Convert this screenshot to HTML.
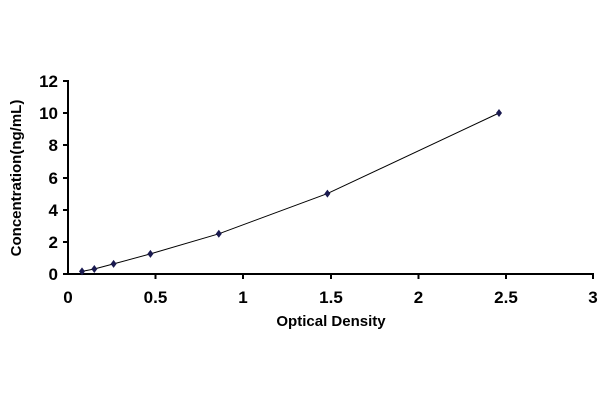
<!DOCTYPE html>
<html><head><style>body{margin:0;background:#fff}</style></head><body>
<svg width="600" height="400" xmlns="http://www.w3.org/2000/svg" font-family="Liberation Sans, Arial, sans-serif" font-weight="bold">
<rect width="600" height="400" fill="#fff"/>
<g stroke="#000" stroke-width="2" fill="none">
<line x1="68" y1="80" x2="68" y2="275"/>
<line x1="67" y1="274" x2="594" y2="274"/>
<line x1="63" y1="81" x2="68" y2="81"/><line x1="63" y1="113" x2="68" y2="113"/><line x1="63" y1="145" x2="68" y2="145"/><line x1="63" y1="178" x2="68" y2="178"/><line x1="63" y1="210" x2="68" y2="210"/><line x1="63" y1="242" x2="68" y2="242"/><line x1="63" y1="274" x2="68" y2="274"/>
<line x1="155.5" y1="274" x2="155.5" y2="279"/><line x1="243" y1="274" x2="243" y2="279"/><line x1="331" y1="274" x2="331" y2="279"/><line x1="418.5" y1="274" x2="418.5" y2="279"/><line x1="506" y1="274" x2="506" y2="279"/><line x1="593" y1="274" x2="593" y2="279"/>
</g>
<g font-size="17" text-anchor="end">
<text x="58" y="87">12</text><text x="58" y="119">10</text><text x="58" y="151">8</text><text x="58" y="184">6</text><text x="58" y="216">4</text><text x="58" y="248">2</text><text x="58" y="280">0</text>
</g>
<g font-size="17" text-anchor="middle">
<text x="68" y="303">0</text><text x="155.5" y="303">0.5</text><text x="243" y="303">1</text><text x="331" y="303">1.5</text><text x="418.5" y="303">2</text><text x="506" y="303">2.5</text><text x="593" y="303">3</text>
</g>
<text x="331" y="326" font-size="15" text-anchor="middle">Optical Density</text>
<text transform="translate(21,178) rotate(-90)" font-size="15" text-anchor="middle">Concentration(ng/mL)</text>
<polyline fill="none" stroke="#000" stroke-width="1" points="82,271.4 94.3,269 113.6,263.9 150.4,253.9 218.8,233.8 327.4,193.6 499,113"/>
<g fill="#1a1a50">
<path d="M82,267.4l3,4-3,4-3,-4z"/><path d="M94.3,265l3,4-3,4-3,-4z"/><path d="M113.6,259.9l3,4-3,4-3,-4z"/><path d="M150.4,249.9l3,4-3,4-3,-4z"/><path d="M218.8,229.8l3,4-3,4-3,-4z"/><path d="M327.4,189.6l3,4-3,4-3,-4z"/><path d="M499,109l3,4-3,4-3,-4z"/>
</g>
</svg>
</body></html>
